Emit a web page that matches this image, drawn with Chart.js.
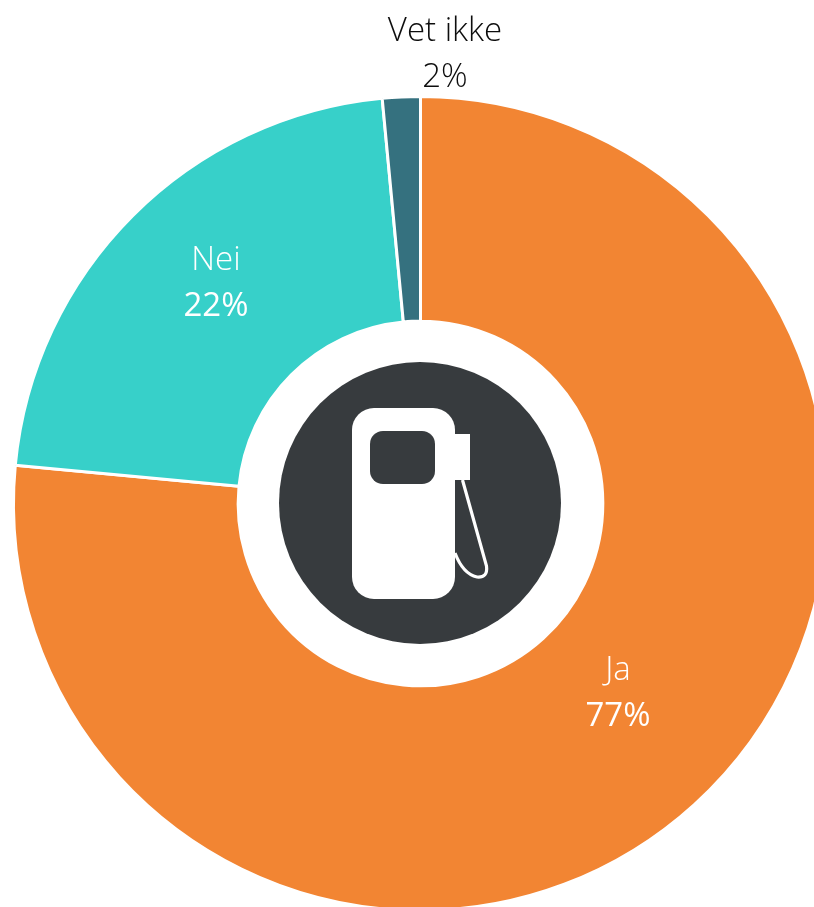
<!DOCTYPE html>
<html>
<head>
<meta charset="utf-8">
<style>
html,body{margin:0;padding:0;background:#fff;width:814px;height:907px;overflow:hidden}
#wrap{position:absolute;left:0;top:0;width:841px;height:1007px}
</style>
<script src="https://cdn.jsdelivr.net/npm/chart.js@4"></script>
</head>
<body>
<div id="wrap"><canvas id="c" width="841" height="1007"></canvas></div>
<script>
const categories = ['Ja', 'Nei', 'Vet ikke'];
const shares = [76.5, 22, 1.5];
const sliceColors = ['#F28533', '#37D0C9', '#35717F'];

const labelPlugin = {
  id: 'labels',
  afterDraw(chart) {
    const ctx = chart.ctx;
    const pos = [[618, 671, 717, '#ffffff'], [216, 261, 307, '#ffffff'], [445, 32, 78, '#0d0d0d']];
    ctx.save();
    ctx.textAlign = 'center';
    ctx.textBaseline = 'middle';
    categories.forEach((name, i) => {
      const p = pos[i];
      ctx.fillStyle = p[3];
      ctx.font = '300 33px "Open Sans"';
      ctx.fillText(name, p[0], p[1]);
      ctx.font = (i === 2 ? '300' : '400') + ' 33px "Open Sans"';
      ctx.fillText(Math.round(shares[i]) + '%', p[0], p[2]);
    });
    ctx.restore();
  }
};

const iconPlugin = {
  id: 'pump',
  afterDraw(chart) {
    const ctx = chart.ctx;
    ctx.save();
    ctx.fillStyle = '#373B3E';
    ctx.beginPath();
    ctx.arc(420, 503, 141, 0, Math.PI * 2);
    ctx.fill();
    ctx.fillStyle = '#ffffff';
    ctx.beginPath();
    ctx.roundRect(352, 408, 103, 191, 22);
    ctx.fill();
    ctx.fillRect(455, 434, 15, 46);
    ctx.fillStyle = '#373B3E';
    ctx.beginPath();
    ctx.roundRect(370, 431, 65, 53, 13);
    ctx.fill();
    ctx.strokeStyle = '#ffffff';
    ctx.lineWidth = 3.2;
    ctx.beginPath();
    ctx.moveTo(462.5, 480);
    ctx.lineTo(486.5, 566);
    ctx.quadraticCurveTo(488, 578, 477, 577);
    ctx.quadraticCurveTo(463, 574, 455, 553);
    ctx.stroke();
    ctx.restore();
  }
};

new Chart(document.getElementById('c'), {
  type: 'doughnut',
  data: {
    labels: categories,
    datasets: [{
      data: shares,
      backgroundColor: sliceColors,
      borderColor: '#ffffff',
      borderWidth: 3
    }]
  },
  options: {
    responsive: false,
    animation: false,
    cutout: '44.8%',
    layout: { padding: { top: 95, bottom: 95, left: 0, right: 0 } },
    plugins: { legend: { display: false }, tooltip: { enabled: false } }
  },
  plugins: [labelPlugin, iconPlugin]
});
</script>
</body>
</html>
